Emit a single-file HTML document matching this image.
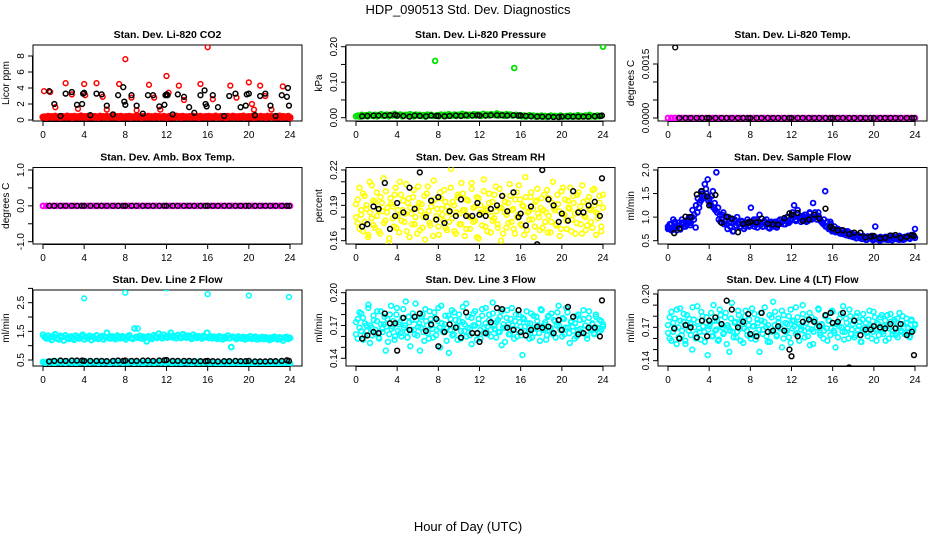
<!DOCTYPE html>
<html><head><meta charset="utf-8"><style>
html,body{margin:0;padding:0;background:#fff;}
svg{display:block;font-family:"Liberation Sans",sans-serif;}
</style></head><body>
<svg id="chart" width="936" height="540" viewBox="0 0 936 540" xmlns="http://www.w3.org/2000/svg">
<rect x="0" y="0" width="936" height="540" fill="#fff"/>
<text x="468" y="14" text-anchor="middle" font-size="13">HDP_090513  Std. Dev. Diagnostics</text>
<text x="468" y="531" text-anchor="middle" font-size="13">Hour of Day (UTC)</text>
</svg>
<script>
// ---- shared hours for black (hourly-avg) points ----
const hoursBlack=[0.6,1.1,1.7,2.2,2.8,3.3,3.8,4.0,4.6,5.2,5.7,6.2,6.8,7.3,7.8,8.0,8.6,9.1,9.7,10.2,10.7,11.3,11.8,12.0,12.6,13.1,13.7,14.2,14.7,15.3,15.8,16.0,16.5,17.0,17.6,18.1,18.7,19.2,19.7,20.0,20.6,21.1,21.6,22.1,22.6,23.2,23.7,23.9];
const xTicks=[0,4,8,12,16,20,24];

// ---- CO2 ----
const co2Base=[0.35,0.4,0.3,0.45,0.38,0.42,0.33,0.47,0.36,0.4,0.31,0.44,0.39,0.35,0.48,0.37,0.42,0.3,0.45,0.36,0.41,0.34,0.5,0.38,0.43,0.32,0.46,0.37,0.4,0.35,0.44,0.39,0.31,0.47,0.36,0.42,0.38,0.45,0.33,0.41,0.37,0.49,0.35,0.43,0.3,0.46,0.39,0.34,0.42,0.38,0.45,0.32,0.4,0.36,0.48,0.37,0.43,0.31,0.44,0.39,0.35,0.46,0.38,0.41,0.33,0.47,0.36,0.42,0.4,0.34,0.45,0.38,0.3,0.44,0.37,0.41,0.35,0.48,0.39,0.43,0.32,0.46,0.36,0.4,0.38,0.44,0.34,0.47,0.37,0.42,0.31,0.45,0.39,0.35,0.43,0.38,0.46,0.33,0.41,0.36,0.48,0.4,0.34,0.44,0.37,0.42,0.3,0.45,0.39,0.35,0.47,0.38,0.41,0.33,0.44,0.36,0.49,0.4,0.34,0.43,0.37,0.46,0.31,0.42,0.39,0.35,0.45,0.38,0.41,0.32,0.47,0.36,0.43,0.4,0.34,0.44,0.37,0.48,0.33,0.42,0.39,0.36,0.45,0.3];
const co2SpikeHours=[0.1,0.7,1.2,2.2,2.8,3.4,4.0,4.1,5.2,5.8,6.2,7.4,8.0,8.6,9.1,10.3,10.8,11.4,12.0,12.2,13.2,13.7,15.3,16.0,16.5,18.2,18.8,20.0,20.3,20.5,21.1,21.6,22.2,23.3,24.0];
const co2SpikeVals=[3.6,3.5,1.6,4.6,3.2,1.4,4.5,3.1,4.6,2.9,1.3,4.5,7.6,2.8,1.2,4.4,2.8,1.3,5.5,3.4,4.3,2.5,4.5,9.1,2.6,4.3,2.8,4.7,2.0,1.3,4.3,3.0,1.3,4.2,0.3];
const co2BlackHours=[0.6,1.1,1.7,2.2,2.8,3.3,3.8,3.9,4.0,4.6,5.2,5.7,6.2,6.8,7.3,7.8,7.9,8.0,8.6,9.1,9.7,10.2,10.7,11.3,11.8,11.9,12.0,12.1,12.6,13.1,13.7,14.2,14.7,15.3,15.7,15.8,15.9,16.5,17.0,17.6,18.1,18.7,19.2,19.7,19.8,20.0,20.6,21.1,21.6,22.1,22.6,23.2,23.7,23.8,23.9];
const co2BlackVals=[3.6,2.0,0.5,3.3,3.5,1.9,2.0,3.3,3.4,0.6,3.3,3.2,1.8,0.7,3.1,4.1,2.3,1.9,3.1,1.8,0.8,3.1,3.1,1.7,1.9,3.1,3.2,3.1,0.7,3.2,2.9,1.6,0.9,3.1,3.7,2.0,1.7,3.1,1.6,0.5,3.0,3.3,1.6,1.8,3.2,3.3,0.6,3.0,3.3,1.8,0.5,3.1,2.9,4.0,1.8];

// ---- Pressure ----
const presVals=[0.004,0.006,0.003,0.008,0.005,0.007,0.004,0.009,0.006,0.005,0.008,0.004,0.007,0.010,0.005,0.006,0.009,0.004,0.008,0.006,0.011,0.005,0.007,0.009,0.004,0.006,0.008,0.005,0.010,0.007,0.004,0.009,0.006,0.008,0.005,0.007,0.003,0.009,0.006,0.008,0.005,0.160,0.007,0.004,0.009,0.006,0.008,0.005,0.010,0.007,0.006,0.009,0.005,0.008,0.007,0.011,0.006,0.009,0.005,0.008,0.007,0.010,0.006,0.009,0.008,0.005,0.011,0.007,0.009,0.006,0.010,0.008,0.007,0.012,0.006,0.009,0.008,0.005,0.010,0.007,0.009,0.006,0.140,0.008,0.005,0.007,0.004,0.006,0.003,0.005,0.007,0.004,0.006,0.003,0.005,0.004,0.006,0.003,0.005,0.002,0.004,0.006,0.003,0.005,0.004,0.002,0.006,0.004,0.003,0.005,0.004,0.006,0.003,0.005,0.004,0.007,0.003,0.005,0.004,0.006,0.003,0.008,0.004,0.005,0.003,0.006,0.004,0.005,0.200];
const presBlack=[0.004,0.005,0.006,0.006,0.006,0.007,0.008,0.006,0.005,0.003,0.006,0.005,0.004,0.006,0.005,0.005,0.004,0.005,0.006,0.005,0.007,0.006,0.007,0.006,0.006,0.007,0.007,0.007,0.006,0.007,0.006,0.006,0.005,0.004,0.003,0.003,0.003,0.002,0.002,0.003,0.003,0.003,0.003,0.003,0.003,0.004,0.005,0.006];

// ---- Li-820 Temp ----
const tempVals=[0,0,0,0,0,0,0,0,0,0,0,0,0,0,0,0,0,0,0,0,0,0,0,0,0,0,0,0,0,0,0,0,0,0,0,0,0,0,0,0,0,0,0,0,0,0,0,0,0,0,0,0,0,0,0,0,0,0,0,0,0,0,0,0,0,0,0,0,0,0,0,0,0];
const tempBlackHours=[0.7,1.1,1.7,2.2,2.8,3.3,3.8,4.0,4.6,5.2,5.7,6.2,6.8,7.3,7.8,8.0,8.6,9.1,9.7,10.2,10.7,11.3,11.8,12.0,12.6,13.1,13.7,14.2,14.7,15.3,15.8,16.0,16.5,17.0,17.6,18.1,18.7,19.2,19.7,20.0,20.6,21.1,21.6,22.1,22.6,23.2,23.7,23.9];
const tempBlack=[0.00196,0,0,0,0,0,0,0,0,0,0,0,0,0,0,0,0,0,0,0,0,0,0,0,0,0,0,0,0,0,0,0,0,0,0,0,0,0,0,0,0,0,0,0,0,0,0,0];

// ---- Amb box temp ----
const ambVals=[0,0,0,0,0,0,0,0,0,0,0,0,0,0,0,0,0,0,0,0,0,0,0,0,0,0,0,0,0,0,0,0,0,0,0,0,0,0,0,0,0,0,0,0,0,0,0,0,0,0,0,0,0,0,0,0,0,0,0,0,0,0,0,0,0,0,0,0,0,0,0,0,0];
const ambBlack=[0,0,0,0,0,0,0,0,0,0,0,0,0,0,0,0,0,0,0,0,0,0,0,0,0,0,0,0,0,0,0,0,0,0,0,0,0,0,0,0,0,0,0,0,0,0,0,0];

// ---- Gas stream RH ----
const rhVals=[.191,.175,.205,.182,.168,.198,.187,.163,.210,.179,.194,.171,.201,.186,.166,.192,.213,.177,.184,.158,.196,.189,.172,.205,.181,.167,.199,.186,.176,.208,.192,.163,.183,.197,.174,.188,.206,.169,.191,.180,.161,.200,.185,.173,.193,.211,.178,.187,.165,.196,.182,.203,.171,.189,.176,.221,.193,.168,.184,.199,.174,.209,.186,.164,.195,.181,.170,.204,.188,.177,.197,.162,.190,.183,.212,.172,.186,.200,.167,.193,.179,.206,.174,.188,.160,.198,.184,.171,.192,.208,.176,.187,.166,.201,.182,.195,.173,.189,.214,.169,.185,.197,.178,.163,.193,.204,.180,.188,.171,.199,.184,.167,.196,.176,.210,.186,.173,.191,.164,.202,.183,.195,.170,.188,.205,.178,.192,.166,.199,.185,.174,.207,.181,.169,.194,.187,.176,.203,.190,.165,.183,.198,.172,.188];
const rhVals2=[.180,.195,.170,.186,.200,.176,.190,.165,.184,.207,.173,.193,.181,.168,.197,.185,.175,.202,.188,.162,.191,.179,.199,.171,.186,.210,.177,.194,.183,.168,.196,.188,.174,.203,.180,.166,.192,.185,.171,.198,.182,.206,.175,.189,.164,.195,.181,.172,.201,.187,.177,.193,.169,.184,.205,.179,.190,.166,.197,.183,.174,.200,.186,.170,.194,.180,.209,.176,.189,.163,.196,.184,.173,.202,.187,.168,.192,.181,.177,.199,.185,.171,.204,.188,.166,.193,.182,.175,.198,.186,.170,.195,.180,.207,.174,.190,.165,.197,.184,.178,.201,.187,.172,.194,.183,.169,.196,.186,.176,.203,.181,.167,.192,.188,.174,.199,.185,.170,.205,.182,.177,.194,.187,.168,.198,.183,.175,.201,.189,.166,.193,.180,.173,.197,.186,.171,.204,.184,.179,.192,.168,.199];
const rhBlack=[.172,.174,.189,.187,.209,.170,.181,.192,.184,.205,.187,.218,.180,.194,.178,.197,.175,.185,.181,.195,.181,.181,.192,.182,.181,.187,.190,.198,.185,.201,.180,.183,.173,.189,.157,.220,.195,.190,.176,.183,.177,.202,.184,.184,.190,.193,.181,.213];

// ---- Sample flow ----
const sfVals=[.80,.75,.85,.78,.90,.72,.82,.76,.88,.80,.92,.85,.90,.83,1.00,.95,.78,1.10,1.20,1.35,1.50,1.45,1.60,1.80,1.40,1.25,1.55,1.30,1.95,1.20,1.05,.95,1.10,.90,.85,1.00,.80,.95,.70,.90,1.00,.85,.80,.90,.75,.85,.95,.80,1.20,.90,.80,.95,.85,1.05,.85,.80,.90,.95,.78,.88,.82,.85,.90,.78,.92,.86,.90,.85,.95,1.00,.88,.92,1.10,1.25,.95,1.05,1.00,.90,.95,1.00,1.05,.92,1.10,.98,1.30,1.05,1.00,1.10,.95,.90,.85,1.55,.80,.75,.90,.70,.72,.68,.75,.70,.65,.72,.68,.62,.70,.60,.66,.58,.60,.55,.62,.58,.54,.60,.56,.52,.58,.55,.60,.53,.80,.55,.52,.58,.54,.56,.55,.58,.52,.56,.60,.54,.57,.53,.60,.55,.52,.58,.56,.60,.54,.58,.62,.75];
const sfVals2=[.75,.85,.72,.95,.80,.78,.88,.74,.95,.86,.80,.90,1.00,.88,1.15,1.05,1.25,1.40,1.30,1.55,1.40,1.70,1.50,1.35,1.30,1.45,1.20,1.15,1.10,.95,.90,1.05,.85,1.00,.75,.90,.88,.70,.95,.82,.86,.78,.92,.85,.80,.88,.90,.82,.85,.95,.88,.78,.90,.84,.80,.92,.85,.88,.76,.90,.80,.88,.82,.85,.95,.90,.92,.85,1.00,.90,.95,1.05,1.00,.92,1.15,.98,1.02,.95,1.05,.90,1.00,1.08,.95,1.00,1.10,.95,1.02,.92,.88,.95,.80,.90,.78,.85,.72,.80,.70,.75,.66,.72,.64,.70,.62,.68,.60,.65,.58,.62,.56,.60,.58,.54,.57,.52,.59,.55,.56,.51,.58,.53,.56,.50,.55,.53,.58,.52,.55,.57,.51,.56,.54,.58,.52,.55,.57,.53,.56,.60,.55,.62,.58,.56];
const sfBlack=[.66,.76,1.01,1.00,1.48,1.55,1.44,1.25,1.47,.88,1.01,.97,.68,.86,.88,.90,.89,.97,.86,.85,.84,.98,1.08,1.05,1.09,.92,.95,1.05,.97,1.18,.80,.76,.72,.72,.64,.67,.67,.57,.59,.60,.55,.56,.61,.62,.56,.58,.62,.60];

// ---- Line 2 flow ----
const l2High=[1.38,1.30,1.25,1.35,1.28,1.20,1.32,1.40,1.26,1.22,1.34,1.30,1.18,1.36,1.28,1.24,1.32,1.27,1.21,1.35,1.29,1.25,1.33,1.38,1.22,1.30,1.27,1.34,1.20,1.31,1.26,1.36,1.24,1.29,1.33,1.22,1.30,1.45,1.27,1.25,1.32,1.28,1.23,1.35,1.30,1.26,1.33,1.29,1.22,1.31,1.36,1.27,1.24,1.60,1.30,1.28,1.34,1.25,1.31,1.27,1.15,1.33,1.29,1.24,1.36,1.30,1.27,1.42,1.32,1.26,1.38,1.30,1.28,1.35,1.45,1.29,1.33,1.26,1.37,1.30,1.27,1.40,1.32,1.28,1.35,1.30,1.24,1.38,1.31,1.27,1.33,1.29,1.25,1.34,1.30,1.45,1.27,1.32,1.26,1.31,1.28,1.24,1.33,1.29,1.22,1.30,1.27,1.35,1.26,0.95,1.31,1.28,1.23,1.32,1.27,1.25,1.30,1.22,1.29,1.26,1.33,1.24,1.28,1.31,1.22,1.27,1.25,1.30,1.23,1.29,1.26,1.20,1.28,1.24,1.31,1.25,1.22,1.29,1.26,1.18,1.28,1.30,1.24,1.27];
const l2Low=[.43,.40,.44,.41,.45,.39,.42,.44,.41,.43,.40,.45,.42,.41,.44,.39,.43,.42,.45,.40,.44,.41,.43,.42,.46,.40,.43,.41,.44,.42,.39,.43,.45,.41,.42,.44,.40,.43,.41,.45,.42,.40,.44,.41,.43,.39,.42,.44,.41,.43,.40,.42,.45,.41,.43,.40,.44,.42,.39,.43,.41,.44,.40,.42,.43,.41,.45,.39,.42,.44,.40,.43,.41,.42,.44,.39,.43,.41,.40,.42,.38,.41,.43,.39,.42,.40,.41,.43,.38,.42,.40,.41,.39,.42,.40,.38,.41,.43,.39,.40,.42,.38,.41,.39,.40,.42,.38,.41,.40,.39,.41,.37];
const l2SpikeHours=[4.0,8.0,9.2,12.0,16.0,20.0,23.9];
const l2SpikeVals=[2.65,2.85,1.6,3.0,2.8,2.75,2.7];
const l2Black=[.45,.47,.48,.47,.48,.48,.48,.47,.47,.47,.47,.46,.47,.48,.47,.48,.47,.47,.48,.48,.47,.48,.49,.50,.47,.47,.47,.47,.46,.46,.46,.47,.46,.45,.46,.46,.47,.46,.46,.47,.45,.45,.45,.46,.46,.47,.49,.47];

// ---- Line 3 flow ----
const l3Vals=[.173,.158,.182,.165,.177,.161,.170,.186,.154,.168,.179,.163,.174,.159,.183,.167,.171,.147,.176,.162,.188,.169,.157,.180,.165,.173,.160,.185,.170,.164,.178,.151,.175,.166,.190,.161,.172,.168,.180,.156,.174,.163,.183,.170,.159,.177,.166,.186,.150,.172,.164,.179,.168,.145,.176,.161,.182,.169,.157,.174,.165,.187,.171,.160,.178,.167,.153,.181,.170,.163,.176,.158,.185,.168,.172,.162,.180,.166,.191,.170,.159,.175,.164,.183,.168,.155,.177,.171,.162,.186,.167,.174,.160,.180,.169,.143,.176,.165,.172,.158,.181,.167,.163,.178,.170,.156,.184,.166,.173,.161,.179,.168,.164,.175,.159,.182,.170,.166,.177,.162,.186,.168,.154,.174,.165,.172,.160,.180,.167,.163,.176,.170,.158,.183,.166,.171,.162,.178,.167,.164,.174,.169];
const l3Vals2=[.162,.176,.168,.181,.157,.172,.165,.189,.170,.161,.175,.166,.183,.158,.171,.164,.178,.169,.155,.180,.167,.174,.160,.186,.171,.163,.177,.168,.192,.159,.173,.166,.181,.162,.175,.169,.147,.178,.164,.185,.170,.158,.176,.167,.182,.161,.174,.168,.188,.165,.171,.156,.179,.166,.184,.162,.175,.169,.180,.158,.173,.165,.190,.168,.161,.177,.170,.183,.157,.172,.166,.179,.163,.186,.169,.175,.160,.181,.167,.173,.164,.178,.152,.171,.168,.184,.162,.176,.170,.158,.180,.166,.173,.161,.177,.169,.183,.164,.172,.159,.179,.168,.174,.163,.185,.167,.171,.157,.178,.165,.181,.162,.174,.170,.188,.166,.160,.176,.168,.182,.163,.173,.169,.158,.179,.166,.175,.164,.184,.170,.161,.177,.167,.172,.163,.180,.168,.175,.166,.171];
const l3Black=[.158,.161,.164,.163,.181,.172,.172,.147,.177,.166,.178,.181,.165,.171,.176,.151,.164,.171,.168,.159,.182,.163,.163,.155,.163,.173,.186,.185,.168,.166,.184,.164,.161,.166,.169,.168,.169,.163,.175,.166,.187,.178,.162,.163,.168,.168,.160,.193];

// ---- Line 4 flow ----
const l4Vals=[.172,.160,.184,.166,.178,.155,.170,.187,.163,.175,.158,.181,.167,.173,.150,.177,.164,.189,.169,.159,.180,.166,.174,.145,.171,.183,.162,.176,.168,.158,.186,.172,.164,.179,.155,.170,.167,.192,.161,.175,.166,.181,.158,.173,.169,.185,.163,.177,.160,.171,.182,.165,.174,.148,.176,.168,.188,.162,.172,.157,.179,.167,.184,.163,.175,.170,.152,.181,.166,.173,.161,.186,.169,.176,.164,.179,.158,.171,.190,.167,.174,.162,.183,.168,.155,.177,.170,.187,.165,.173,.160,.180,.169,.176,.163,.185,.167,.152,.174,.171,.182,.166,.159,.178,.169,.186,.164,.173,.161,.180,.168,.175,.157,.182,.170,.165,.177,.172,.160,.184,.168,.174,.163,.179,.166,.171,.158,.181,.169,.175,.164,.177,.170,.161,.183,.167,.173,.165,.178,.169,.162,.176,.168,.172];
const l4Vals2=[.165,.179,.158,.174,.169,.186,.161,.176,.167,.182,.155,.172,.178,.163,.188,.170,.160,.175,.166,.184,.171,.157,.179,.168,.173,.162,.190,.167,.176,.159,.181,.170,.165,.183,.172,.148,.178,.166,.174,.161,.185,.169,.176,.156,.180,.167,.172,.163,.187,.171,.159,.177,.168,.183,.164,.175,.170,.157,.181,.166,.193,.172,.162,.178,.169,.185,.160,.174,.167,.180,.156,.176,.171,.188,.165,.173,.168,.182,.161,.177,.169,.154,.179,.166,.175,.170,.186,.163,.172,.167,.181,.158,.176,.169,.184,.165,.173,.161,.178,.170,.189,.166,.174,.160,.180,.168,.176,.163,.183,.171,.157,.177,.167,.174,.162,.185,.170,.166,.179,.158,.173,.168,.181,.164,.176,.171,.160,.182,.167,.175,.163,.178,.169,.166,.180,.164,.174,.170,.161,.177,.167,.173];
const l4Black=[.169,.160,.172,.170,.161,.176,.162,.176,.179,.173,.194,.186,.170,.175,.182,.164,.162,.183,.166,.167,.171,.167,.150,.144,.162,.175,.177,.175,.171,.181,.183,.174,.175,.183,.134,.176,.163,.168,.168,.171,.170,.169,.173,.169,.173,.163,.166,.145];

// ---- layout ----
const svg=document.getElementById('chart');
const NS='http://www.w3.org/2000/svg';
const colL=[33,346,658], colR=[302,615,927];
const rowT=[45,167.5,290], rowB=[121,244,366];

function mk(tag,attrs,parent){const e=document.createElementNS(NS,tag);for(const k in attrs)e.setAttribute(k,attrs[k]);(parent||svg).appendChild(e);return e;}

function makePanel(p){
  const g=mk('g',{});
  
  
  const L=colL[p.c],R=colR[p.c],T=rowT[p.r],B=rowB[p.r];
  const x0=L+10,x1=L+257;
  p.xs=h=>x0+(x1-x0)*h/24;
  p.ys=v=>p.a[1]+(p.a[3]-p.a[1])*(v-p.a[0])/(p.a[2]-p.a[0]);
  p.g=g;
  const t=mk('text',{x:(L+R)/2,y:T-7,'text-anchor':'middle','font-size':'10.5','font-weight':'bold'},g);
  t.textContent=p.title;
  
  
  const yl=mk('text',{x:0,y:0,'text-anchor':'middle','font-size':'10',transform:`translate(${L-24},${(T+B)/2}) rotate(-90)`},g);
  yl.textContent=p.ylab;
  
  
  const xa=mk('g',{},g);
  
  
  mk('line',{x1:p.xs(0),x2:p.xs(24),y1:B+0.5,y2:B+0.5,stroke:'#000'},xa);
  xTicks.forEach(v=>{
    mk('line',{x1:p.xs(v),x2:p.xs(v),y1:B,y2:B+5,stroke:'#000'},xa);
    const tl=mk('text',{x:p.xs(v),y:B+17,'text-anchor':'middle','font-size':'10'},xa);
    tl.textContent=v;
    
    
  });
  const ya=mk('g',{},g);
  
  
  mk('line',{x1:L-0.5,x2:L-0.5,y1:p.ys(p.ticks[0]),y2:p.ys(p.ticks[p.ticks.length-1]),stroke:'#000'},ya);
  p.ticks.forEach((v,i)=>{
    const y=p.ys(v);
    mk('line',{x1:L-5,x2:L,y1:y,y2:y,stroke:'#000'},ya);
    if(p.labels[i]){
      const tl=mk('text',{x:0,y:0,'text-anchor':'middle','font-size':'10',transform:`translate(${L-9},${y}) rotate(-90)`},ya);
      tl.textContent=p.labels[i];
      
      
    }
  });
  const box=mk('rect',{x:L,y:T,width:R-L,height:B-T,fill:'none',stroke:'#000'},g);
  
  
  const cp=mk('clipPath',{id:'cp'+p.name},g);
  mk('rect',{x:L,y:T,width:R-L,height:B-T},cp);
  p.pts=mk('g',{'clip-path':`url(#cp${p.name})`},g);
  return p;
}

function even(vals){return vals.map((v,i)=>24*i/(vals.length-1));}
function plot(p,hours,vals,color,sw,name){
  const n=Math.min(hours.length,vals.length);
  for(let i=0;i<n;i++){
    const c=mk('circle',{cx:p.xs(hours[i]),cy:p.ys(vals[i]),r:2.4,fill:'none',stroke:color,'stroke-width':sw},p.pts);
    
    
  }
}

const P=[
 {name:'panel-co2',c:0,r:0,title:'Stan. Dev. Li-820 CO2',ylab:'Licor ppm',a:[0,120,8,56],ticks:[0,2,4,6,8],labels:['0','2','4','6','8']},
 {name:'panel-pressure',c:1,r:0,title:'Stan. Dev. Li-820 Pressure',ylab:'kPa',a:[0,117.7,0.2,46.7],ticks:[0,0.05,0.1,0.15,0.2],labels:['0.00','','0.10','','0.20']},
 {name:'panel-temp',c:2,r:0,title:'Stan. Dev. Li-820 Temp.',ylab:'degrees C',a:[0,118,0.0015,64],ticks:[0,0.0005,0.001,0.0015],labels:['0.0000','','','0.0015']},
 {name:'panel-amb-temp',c:0,r:1,title:'Stan. Dev. Amb. Box Temp.',ylab:'degrees C',a:[-1,241.7,1,170],ticks:[-1,-0.5,0,0.5,1],labels:['-1.0','','0.0','','1.0']},
 {name:'panel-rh',c:1,r:1,title:'Stan. Dev. Gas Stream RH',ylab:'percent',a:[0.16,240.7,0.22,170],ticks:[0.16,0.17,0.18,0.19,0.2,0.21,0.22],labels:['0.16','','','0.19','','','0.22']},
 {name:'panel-sample-flow',c:2,r:1,title:'Stan. Dev. Sample Flow',ylab:'ml/min',a:[0.5,240.7,2,170],ticks:[0.5,1,1.5,2],labels:['0.5','1.0','1.5','2.0']},
 {name:'panel-line2',c:0,r:2,title:'Stan. Dev. Line 2 Flow',ylab:'ml/min',a:[0.5,360,2.5,302.7],ticks:[0.5,1,1.5,2,2.5,3],labels:['0.5','','1.5','','2.5','']},
 {name:'panel-line3',c:1,r:2,title:'Stan. Dev. Line 3 Flow',ylab:'ml/min',a:[0.14,358.3,0.2,292.7],ticks:[0.14,0.15,0.16,0.17,0.18,0.19,0.2],labels:['0.14','','','0.17','','','0.20']},
 {name:'panel-line4',c:2,r:2,title:'Stan. Dev. Line 4 (LT) Flow',ylab:'ml/min',a:[0.14,360.7,0.2,294],ticks:[0.14,0.15,0.16,0.17,0.18,0.19,0.2],labels:['0.14','','','0.17','','','0.20']}
].map(makePanel);

const RED='#ff0000',GRN='#00e000',MAG='#ff00ff',YEL='#ffff00',BLU='#0000ff',CYN='#00ffff',BLK='#000';
plot(P[0],even(co2Base),co2Base,RED,2.4,'co2-point');
plot(P[0],co2SpikeHours,co2SpikeVals,RED,1.5,'co2-spike');
plot(P[0],co2BlackHours,co2BlackVals,BLK,1.5,'co2-avg-point');
plot(P[1],even(presVals),presVals,GRN,1.8,'pressure-point');
plot(P[1],hoursBlack,presBlack,BLK,1.5,'pressure-avg-point');
plot(P[2],even(tempVals),tempVals,MAG,2,'temp-point');
plot(P[2],tempBlackHours,tempBlack,BLK,1.4,'temp-avg-point');
plot(P[3],even(ambVals),ambVals,MAG,2,'amb-point');
plot(P[3],hoursBlack,ambBlack,BLK,1.4,'amb-avg-point');
plot(P[4],even(rhVals),rhVals,YEL,1.6,'rh-point');
plot(P[4],even(rhVals2),rhVals2,YEL,1.6,'rh-point');
plot(P[4],hoursBlack,rhBlack,BLK,1.5,'rh-avg-point');
plot(P[5],even(sfVals),sfVals,BLU,1.8,'sample-flow-point');
plot(P[5],even(sfVals2),sfVals2,BLU,1.8,'sample-flow-point');
plot(P[5],hoursBlack,sfBlack,BLK,1.6,'sample-flow-avg-point');
plot(P[6],even(l2High),l2High,CYN,2,'line2-point');
plot(P[6],even(l2Low),l2Low,CYN,2,'line2-low-point');
plot(P[6],l2SpikeHours,l2SpikeVals,CYN,1.5,'line2-spike');
plot(P[6],hoursBlack,l2Black,BLK,1.5,'line2-avg-point');
plot(P[7],even(l3Vals),l3Vals,CYN,1.6,'line3-point');
plot(P[7],even(l3Vals2),l3Vals2,CYN,1.6,'line3-point');
plot(P[7],hoursBlack,l3Black,BLK,1.5,'line3-avg-point');
plot(P[8],even(l4Vals),l4Vals,CYN,1.6,'line4-point');
plot(P[8],even(l4Vals2),l4Vals2,CYN,1.6,'line4-point');
plot(P[8],hoursBlack,l4Black,BLK,1.5,'line4-avg-point');
</script>
</body></html>
